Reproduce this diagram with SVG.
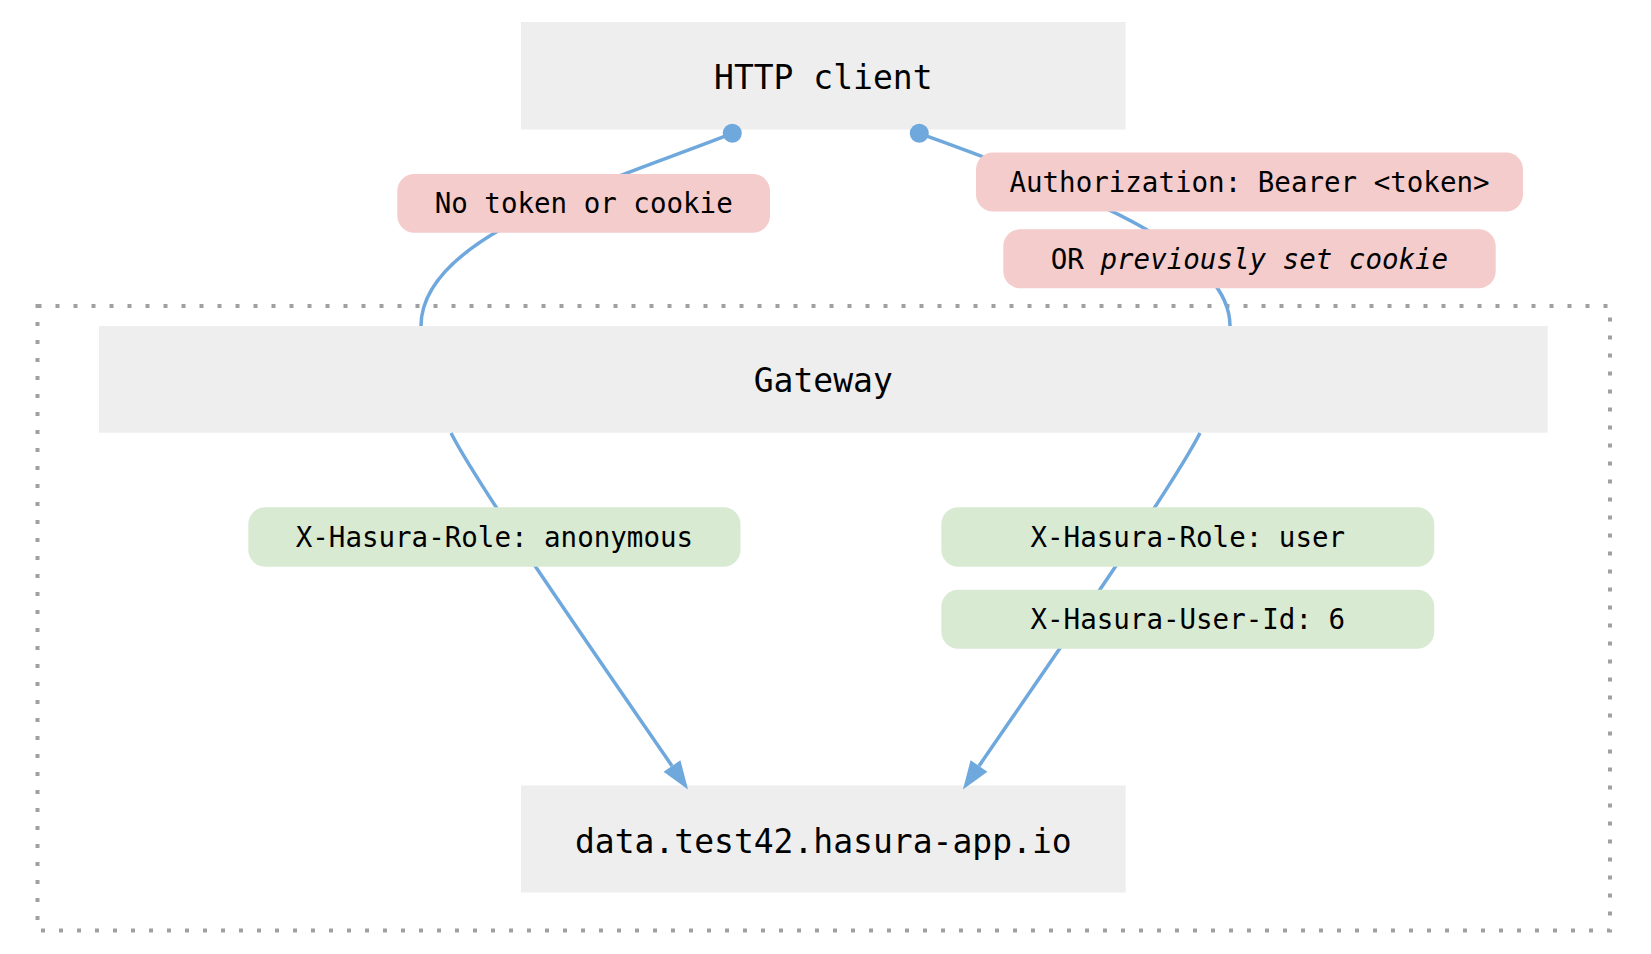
<svg xmlns="http://www.w3.org/2000/svg" width="1651" height="954" viewBox="0 0 1651 954">
  <style>
    .node rect { fill: #eeeeee; }
    .node text { font-family: "DejaVu Sans Mono", "Liberation Mono", monospace; font-size: 33px; fill: #000; text-anchor: middle; }
    .lbl text { font-family: "DejaVu Sans Mono", "Liberation Mono", monospace; font-size: 27.5px; fill: #000; text-anchor: middle; }
    .red rect { fill: #f4cccc; }
    .green rect { fill: #d9ead3; }
    .edge { fill: none; stroke: #6fa8dc; stroke-width: 3.5; }
    .cluster { fill: none; stroke: #a0a0a0; stroke-width: 4; stroke-dasharray: 4 14; }
  </style>
  <defs>
    <marker id="dot" markerUnits="userSpaceOnUse" markerWidth="20" markerHeight="20" refX="10" refY="10" overflow="visible">
      <circle cx="10" cy="10" r="9.5" fill="#6fa8dc"/>
    </marker>
    <marker id="arr" markerUnits="userSpaceOnUse" markerWidth="30" markerHeight="22" refX="0" refY="11" orient="auto" overflow="visible">
      <path d="M0,0.8 L28.4,11 L0,21.2 z" fill="#6fa8dc"/>
    </marker>
  </defs>
  <rect width="1651" height="954" fill="#ffffff"/>

  <g id="cluster_gateway">
    <rect class="cluster" x="37.5" y="306" width="1572.5" height="624.5"/>
  </g>

  <g id="node_http_client" class="node">
    <rect x="521" y="22" width="604.5" height="107.5"/>
    <text x="823.3" y="89.3">HTTP client</text>
  </g>
  <g id="node_gateway" class="node">
    <rect x="99" y="326" width="1448.7" height="106.7"/>
    <text x="823.3" y="391.7">Gateway</text>
  </g>
  <g id="node_data" class="node">
    <rect x="521" y="785.5" width="604.7" height="107"/>
    <text x="823.3" y="852.7">data.test42.hasura-app.io</text>
  </g>

  <g id="connectors">
    <path class="edge" marker-start="url(#dot)" d="M732.3,133.3 C600,185 421,236 421,326"/>
    <path class="edge" marker-start="url(#dot)" d="M919.3,133.3 C1106,200 1230,256 1230,326"/>
    <path class="edge" marker-end="url(#arr)" d="M451,433 C480,490 620,690 672,766"/>
    <path class="edge" marker-end="url(#arr)" d="M1200,433 C1171,490 1031,690 979,766"/>
  </g>

  <g id="label_no_token" class="lbl red">
    <rect x="397.3" y="174" width="372.7" height="58.7" rx="17" ry="17"/>
    <text x="583.7" y="213.3">No token or cookie</text>
  </g>
  <g id="label_authorization" class="lbl red">
    <rect x="976" y="152.5" width="547" height="59" rx="17" ry="17"/>
    <text x="1249.5" y="192">Authorization: Bearer &lt;token&gt;</text>
  </g>
  <g id="label_cookie" class="lbl red">
    <rect x="1003.3" y="229.3" width="492.4" height="59" rx="17" ry="17"/>
    <text x="1249.5" y="268.8">OR <tspan font-style="italic">previously set cookie</tspan></text>
  </g>
  <g id="label_role_anonymous" class="lbl green">
    <rect x="248.3" y="507.3" width="492.2" height="59.4" rx="17" ry="17"/>
    <text x="494.4" y="547">X-Hasura-Role: anonymous</text>
  </g>
  <g id="label_role_user" class="lbl green">
    <rect x="941.3" y="507.3" width="493" height="59.4" rx="17" ry="17"/>
    <text x="1187.8" y="547">X-Hasura-Role: user</text>
  </g>
  <g id="label_user_id" class="lbl green">
    <rect x="941.3" y="589.7" width="493" height="59" rx="17" ry="17"/>
    <text x="1187.8" y="629.2">X-Hasura-User-Id: 6</text>
  </g>
</svg>
